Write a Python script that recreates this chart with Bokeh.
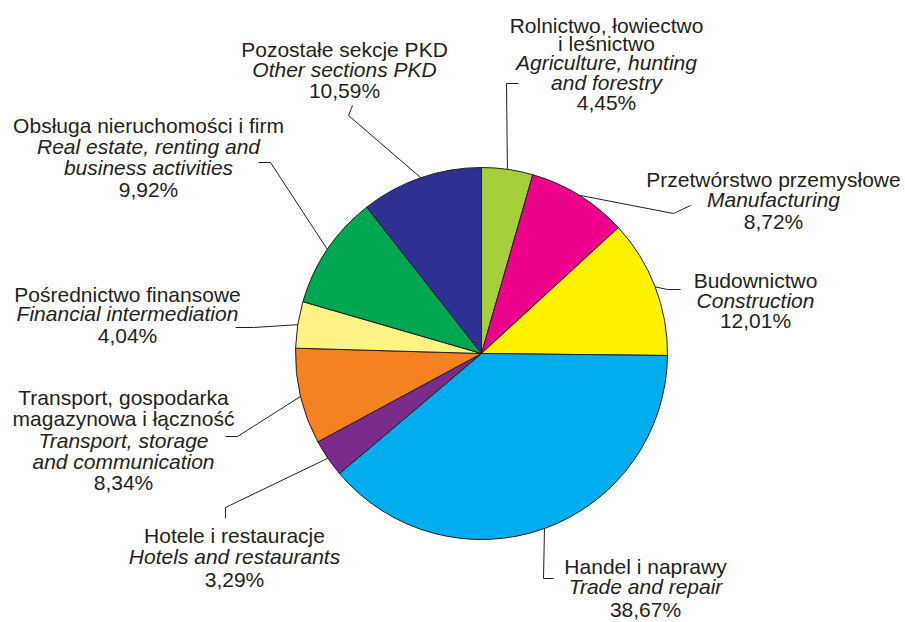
import math
from bokeh.plotting import figure
from bokeh.models import Range1d, ColumnDataSource
from bokeh.embed import file_html
from bokeh.resources import INLINE
from bokeh.core.properties import value

# ---- data ----
sectors_pl = [
    "Rolnictwo, łowiectwo\ni leśnictwo",
    "Przetwórstwo przemysłowe",
    "Budownictwo",
    "Handel i naprawy",
    "Hotele i restauracje",
    "Transport, gospodarka\nmagazynowa i łączność",
    "Pośrednictwo finansowe",
    "Obsługa nieruchomości i firm",
    "Pozostałe sekcje PKD",
]
sectors_en = [
    "Agriculture, hunting\nand forestry",
    "Manufacturing",
    "Construction",
    "Trade and repair",
    "Hotels and restaurants",
    "Transport, storage\nand communication",
    "Financial intermediation",
    "Real estate, renting and\nbusiness activities",
    "Other sections PKD",
]
shares = [4.45, 8.72, 12.01, 38.67, 3.29, 8.34, 4.04, 9.92, 10.59]
colors = ["#A6CE39", "#EC008C", "#FFF200", "#00AEEF", "#7B2B8B",
          "#F58220", "#FFF383", "#00A651", "#2E3192"]

# ---- layout (reference pixel coordinates, y downward) ----
W, H = 905, 622
CX, CY, R = 481, 353, 186
label_cx = [606, 773, 755, 645, 234, 123, 127, 148, 344]
label_baselines = [
    [33, 51, 70, 90, 110],
    [187, 207, 229],
    [288, 308, 328],
    [574, 594, 617],
    [543, 564, 587],
    [405, 426, 448, 469, 490],
    [302, 321, 343],
    [133, 154, 175, 197],
    [57, 77, 98],
]
TEXT_SHIFT = -8  # renderer baseline correction
leader_pts = [
    [(506, 83), (518, 83)],
    [(673, 213), (690, 205)],
    [(667, 289), (680, 289)],
    [(543, 578), (553, 578)],
    [(225, 507), (225, 518)],
    [(237, 436), (225, 436)],
    [(253, 327), (235, 327)],
    [(270, 162), (258, 162)],
    [(348, 115), (352, 105)],
]
TEXT_COLOR = "#231F20"
FONT = "Liberation Sans"
FONT_SIZE = "21px"


def fy(y):
    return H - y


total = sum(shares)
starts, ends, mids = [], [], []
cum = 0.0
for v in shares:
    a0 = cum / total
    cum += v
    a1 = cum / total
    starts.append(math.pi / 2 - 2 * math.pi * a1)
    ends.append(math.pi / 2 - 2 * math.pi * a0)
    mids.append(2 * math.pi * (a0 + a1) / 2)  # clockwise from top

p = figure(width=W, height=H, x_range=Range1d(0, W), y_range=Range1d(0, H),
           output_backend="svg", toolbar_location=None, min_border=0)
p.axis.visible = False
p.grid.visible = False
p.outline_line_color = None
p.background_fill_color = "white"
p.border_fill_color = "white"

src = ColumnDataSource(dict(start=starts, end=ends, color=colors))
p.wedge(x=CX, y=fy(CY), radius=R, start_angle="start", end_angle="end",
        direction="anticlock", fill_color="color", line_color=TEXT_COLOR,
        line_width=1, source=src)

# leader lines
xs, ys = [], []
for m, pts in zip(mids, leader_pts):
    ex = CX + R * math.sin(m)
    ey = CY - R * math.cos(m)
    lx = [ex] + [q[0] for q in pts]
    ly = [fy(ey)] + [fy(q[1]) for q in pts]
    xs.append(lx)
    ys.append(ly)
p.multi_line(xs=xs, ys=ys, line_color=TEXT_COLOR, line_width=1)

# labels
norm = dict(x=[], y=[], t=[])
ital = dict(x=[], y=[], t=[])
for pl, en, v, cx, bl in zip(sectors_pl, sectors_en, shares, label_cx, label_baselines):
    lines = [(s, norm) for s in pl.split("\n")] + [(s, ital) for s in en.split("\n")] \
        + [(f"{v:.2f}".replace(".", ",") + "%", norm)]
    for (s, d), b in zip(lines, bl):
        d["x"].append(cx)
        d["y"].append(fy(b + TEXT_SHIFT))
        d["t"].append(s)

p.text(x="x", y="y", text="t", source=ColumnDataSource(norm), text_align="center",
       text_baseline="alphabetic", text_font=value(FONT), text_font_size=FONT_SIZE,
       text_color=TEXT_COLOR)
p.text(x="x", y="y", text="t", source=ColumnDataSource(ital), text_align="center",
       text_baseline="alphabetic", text_font=value(FONT), text_font_size=FONT_SIZE,
       text_font_style="italic", text_color=TEXT_COLOR)

open("out.html", "w").write(file_html(p, INLINE))
